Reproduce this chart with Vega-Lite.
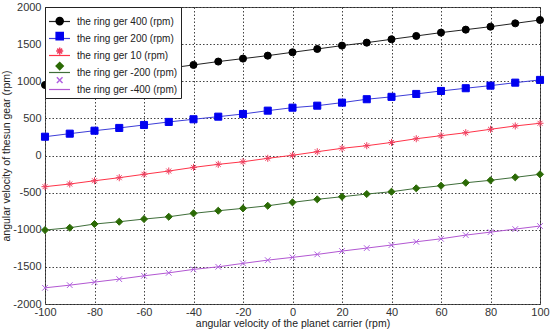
{
  "$schema": "https://vega.github.io/schema/vega-lite/v6.json",
  "width": 495,
  "height": 297,
  "autosize": {"type": "none"},
  "padding": {"left": 45, "top": 7, "right": 10, "bottom": 29},
  "config": {
    "font": "Liberation Sans",
    "view": {"stroke": "#555", "strokeWidth": 1},
    "axis": {"labelFontSize": 11, "labelColor": "#333", "titleColor": "#222", "titleFontWeight": "normal", "titleFontSize": 10.5, "grid": true, "gridColor": "#222", "gridDash": [1.5, 2], "gridOpacity": 0.85, "domain": false, "ticks": false, "labelFlush": false, "labelExpr": "toString(datum.value)"}
  },
  "data": {"values": [
    {"s": "the ring ger 400 (rpm)", "o": 1, "x": -100, "y": 950},
    {"s": "the ring ger 400 (rpm)", "o": 1, "x": -90, "y": 995},
    {"s": "the ring ger 400 (rpm)", "o": 1, "x": -80, "y": 1040},
    {"s": "the ring ger 400 (rpm)", "o": 1, "x": -70, "y": 1085},
    {"s": "the ring ger 400 (rpm)", "o": 1, "x": -60, "y": 1130},
    {"s": "the ring ger 400 (rpm)", "o": 1, "x": -50, "y": 1175},
    {"s": "the ring ger 400 (rpm)", "o": 1, "x": -40, "y": 1220},
    {"s": "the ring ger 400 (rpm)", "o": 1, "x": -30, "y": 1265},
    {"s": "the ring ger 400 (rpm)", "o": 1, "x": -20, "y": 1305},
    {"s": "the ring ger 400 (rpm)", "o": 1, "x": -10, "y": 1345},
    {"s": "the ring ger 400 (rpm)", "o": 1, "x": 0, "y": 1390},
    {"s": "the ring ger 400 (rpm)", "o": 1, "x": 10, "y": 1435},
    {"s": "the ring ger 400 (rpm)", "o": 1, "x": 20, "y": 1480},
    {"s": "the ring ger 400 (rpm)", "o": 1, "x": 30, "y": 1520},
    {"s": "the ring ger 400 (rpm)", "o": 1, "x": 40, "y": 1565},
    {"s": "the ring ger 400 (rpm)", "o": 1, "x": 50, "y": 1610},
    {"s": "the ring ger 400 (rpm)", "o": 1, "x": 60, "y": 1655},
    {"s": "the ring ger 400 (rpm)", "o": 1, "x": 70, "y": 1695},
    {"s": "the ring ger 400 (rpm)", "o": 1, "x": 80, "y": 1735},
    {"s": "the ring ger 400 (rpm)", "o": 1, "x": 90, "y": 1780},
    {"s": "the ring ger 400 (rpm)", "o": 1, "x": 100, "y": 1825},
    {"s": "the ring ger 200 (rpm)", "o": 2, "x": -100, "y": 253},
    {"s": "the ring ger 200 (rpm)", "o": 2, "x": -90, "y": 294},
    {"s": "the ring ger 200 (rpm)", "o": 2, "x": -80, "y": 334},
    {"s": "the ring ger 200 (rpm)", "o": 2, "x": -70, "y": 371},
    {"s": "the ring ger 200 (rpm)", "o": 2, "x": -60, "y": 411},
    {"s": "the ring ger 200 (rpm)", "o": 2, "x": -50, "y": 452},
    {"s": "the ring ger 200 (rpm)", "o": 2, "x": -40, "y": 488},
    {"s": "the ring ger 200 (rpm)", "o": 2, "x": -30, "y": 523},
    {"s": "the ring ger 200 (rpm)", "o": 2, "x": -20, "y": 559},
    {"s": "the ring ger 200 (rpm)", "o": 2, "x": -10, "y": 604},
    {"s": "the ring ger 200 (rpm)", "o": 2, "x": 0, "y": 644},
    {"s": "the ring ger 200 (rpm)", "o": 2, "x": 10, "y": 671},
    {"s": "the ring ger 200 (rpm)", "o": 2, "x": 20, "y": 712},
    {"s": "the ring ger 200 (rpm)", "o": 2, "x": 30, "y": 758},
    {"s": "the ring ger 200 (rpm)", "o": 2, "x": 40, "y": 790},
    {"s": "the ring ger 200 (rpm)", "o": 2, "x": 50, "y": 829},
    {"s": "the ring ger 200 (rpm)", "o": 2, "x": 60, "y": 869},
    {"s": "the ring ger 200 (rpm)", "o": 2, "x": 70, "y": 906},
    {"s": "the ring ger 200 (rpm)", "o": 2, "x": 80, "y": 941},
    {"s": "the ring ger 200 (rpm)", "o": 2, "x": 90, "y": 981},
    {"s": "the ring ger 200 (rpm)", "o": 2, "x": 100, "y": 1018},
    {"s": "the ring ger 10 (rpm)", "o": 3, "x": -100, "y": -420},
    {"s": "the ring ger 10 (rpm)", "o": 3, "x": -90, "y": -384},
    {"s": "the ring ger 10 (rpm)", "o": 3, "x": -80, "y": -340},
    {"s": "the ring ger 10 (rpm)", "o": 3, "x": -70, "y": -299},
    {"s": "the ring ger 10 (rpm)", "o": 3, "x": -60, "y": -253},
    {"s": "the ring ger 10 (rpm)", "o": 3, "x": -50, "y": -209},
    {"s": "the ring ger 10 (rpm)", "o": 3, "x": -40, "y": -160},
    {"s": "the ring ger 10 (rpm)", "o": 3, "x": -30, "y": -119},
    {"s": "the ring ger 10 (rpm)", "o": 3, "x": -20, "y": -84},
    {"s": "the ring ger 10 (rpm)", "o": 3, "x": -10, "y": -38},
    {"s": "the ring ger 10 (rpm)", "o": 3, "x": 0, "y": 3},
    {"s": "the ring ger 10 (rpm)", "o": 3, "x": 10, "y": 51},
    {"s": "the ring ger 10 (rpm)", "o": 3, "x": 20, "y": 97},
    {"s": "the ring ger 10 (rpm)", "o": 3, "x": 30, "y": 132},
    {"s": "the ring ger 10 (rpm)", "o": 3, "x": 40, "y": 176},
    {"s": "the ring ger 10 (rpm)", "o": 3, "x": 50, "y": 226},
    {"s": "the ring ger 10 (rpm)", "o": 3, "x": 60, "y": 267},
    {"s": "the ring ger 10 (rpm)", "o": 3, "x": 70, "y": 307},
    {"s": "the ring ger 10 (rpm)", "o": 3, "x": 80, "y": 353},
    {"s": "the ring ger 10 (rpm)", "o": 3, "x": 90, "y": 398},
    {"s": "the ring ger 10 (rpm)", "o": 3, "x": 100, "y": 434},
    {"s": "the ring ger -200 (rpm)", "o": 4, "x": -100, "y": -1004},
    {"s": "the ring ger -200 (rpm)", "o": 4, "x": -90, "y": -973},
    {"s": "the ring ger -200 (rpm)", "o": 4, "x": -80, "y": -923},
    {"s": "the ring ger -200 (rpm)", "o": 4, "x": -70, "y": -892},
    {"s": "the ring ger -200 (rpm)", "o": 4, "x": -60, "y": -856},
    {"s": "the ring ger -200 (rpm)", "o": 4, "x": -50, "y": -825},
    {"s": "the ring ger -200 (rpm)", "o": 4, "x": -40, "y": -779},
    {"s": "the ring ger -200 (rpm)", "o": 4, "x": -30, "y": -744},
    {"s": "the ring ger -200 (rpm)", "o": 4, "x": -20, "y": -712},
    {"s": "the ring ger -200 (rpm)", "o": 4, "x": -10, "y": -677},
    {"s": "the ring ger -200 (rpm)", "o": 4, "x": 0, "y": -631},
    {"s": "the ring ger -200 (rpm)", "o": 4, "x": 10, "y": -590},
    {"s": "the ring ger -200 (rpm)", "o": 4, "x": 20, "y": -555},
    {"s": "the ring ger -200 (rpm)", "o": 4, "x": 30, "y": -519},
    {"s": "the ring ger -200 (rpm)", "o": 4, "x": 40, "y": -488},
    {"s": "the ring ger -200 (rpm)", "o": 4, "x": 50, "y": -442},
    {"s": "the ring ger -200 (rpm)", "o": 4, "x": 60, "y": -407},
    {"s": "the ring ger -200 (rpm)", "o": 4, "x": 70, "y": -367},
    {"s": "the ring ger -200 (rpm)", "o": 4, "x": 80, "y": -334},
    {"s": "the ring ger -200 (rpm)", "o": 4, "x": 90, "y": -294},
    {"s": "the ring ger -200 (rpm)", "o": 4, "x": 100, "y": -253},
    {"s": "the ring ger -400 (rpm)", "o": 5, "x": -100, "y": -1782},
    {"s": "the ring ger -400 (rpm)", "o": 5, "x": -90, "y": -1746},
    {"s": "the ring ger -400 (rpm)", "o": 5, "x": -80, "y": -1705},
    {"s": "the ring ger -400 (rpm)", "o": 5, "x": -70, "y": -1665},
    {"s": "the ring ger -400 (rpm)", "o": 5, "x": -60, "y": -1620},
    {"s": "the ring ger -400 (rpm)", "o": 5, "x": -50, "y": -1580},
    {"s": "the ring ger -400 (rpm)", "o": 5, "x": -40, "y": -1534},
    {"s": "the ring ger -400 (rpm)", "o": 5, "x": -30, "y": -1499},
    {"s": "the ring ger -400 (rpm)", "o": 5, "x": -20, "y": -1453},
    {"s": "the ring ger -400 (rpm)", "o": 5, "x": -10, "y": -1409},
    {"s": "the ring ger -400 (rpm)", "o": 5, "x": 0, "y": -1372},
    {"s": "the ring ger -400 (rpm)", "o": 5, "x": 10, "y": -1332},
    {"s": "the ring ger -400 (rpm)", "o": 5, "x": 20, "y": -1287},
    {"s": "the ring ger -400 (rpm)", "o": 5, "x": 30, "y": -1247},
    {"s": "the ring ger -400 (rpm)", "o": 5, "x": 40, "y": -1206},
    {"s": "the ring ger -400 (rpm)", "o": 5, "x": 50, "y": -1162},
    {"s": "the ring ger -400 (rpm)", "o": 5, "x": 60, "y": -1122},
    {"s": "the ring ger -400 (rpm)", "o": 5, "x": 70, "y": -1072},
    {"s": "the ring ger -400 (rpm)", "o": 5, "x": 80, "y": -1032},
    {"s": "the ring ger -400 (rpm)", "o": 5, "x": 90, "y": -991},
    {"s": "the ring ger -400 (rpm)", "o": 5, "x": 100, "y": -950}
  ]},
  "encoding": {
    "x": {"field": "x", "type": "quantitative", "scale": {"domain": [-100, 100], "nice": false},
      "axis": {"values": [-100, -80, -60, -40, -20, 0, 20, 40, 60, 80, 100], "title": "angular velocity of the planet carrier (rpm)", "labelPadding": 2, "titlePadding": 1}},
    "y": {"field": "y", "type": "quantitative", "scale": {"domain": [-2000, 2000], "nice": false},
      "axis": {"values": [-2000, -1500, -1000, -500, 0, 500, 1000, 1500, 2000], "title": "angular velocity of thesun gear (rpm)", "labelPadding": 4, "titlePadding": 1}}
  },
  "layer": [
    {
      "mark": {"type": "line", "strokeWidth": 1},
      "encoding": {
        "color": {"field": "s", "type": "nominal",
          "scale": {"domain": ["the ring ger 400 (rpm)", "the ring ger 200 (rpm)", "the ring ger 10 (rpm)", "the ring ger -200 (rpm)", "the ring ger -400 (rpm)"],
            "range": ["#222222", "#3d3dd8", "#ff3348", "#3f6e3a", "#b257d2"]},
          "legend": {"orient": "top-left", "offset": 0, "title": null, "symbolType": "stroke", "symbolSize": 441, "symbolStrokeWidth": 1.2,
            "labelFontSize": 10, "labelColor": "#222", "labelOffset": 6, "rowPadding": -9, "padding": 3, "strokeColor": "#222", "fillColor": "white", "cornerRadius": 0}}
      }
    },
    {
      "mark": {"type": "point", "size": 50, "strokeWidth": 1, "opacity": 1},
      "encoding": {
        "shape": {"field": "s", "type": "nominal", "sort": {"field": "o"},
          "scale": {"range": ["circle", "square", "M-1,0L1,0M0,-1L0,1M-0.7,-0.7L0.7,0.7M-0.7,0.7L0.7,-0.7", "diamond", "M-0.8,-0.8L0.8,0.8M-0.8,0.8L0.8,-0.8"]},
          "legend": {"orient": "none", "legendX": 4.7, "legendY": 4.1, "title": null, "labelFontSize": 10, "labelExpr": "' '", "labelOffset": 5, "rowPadding": 1, "padding": 5, "symbolSize": 50}},
        "fill": {"field": "s", "type": "nominal", "sort": {"field": "o"},
          "scale": {"range": ["#000000", "#0000f0", "transparent", "#2b6a05", "transparent"]},
          "legend": {"orient": "none", "legendX": 4.7, "legendY": 4.1, "title": null, "labelFontSize": 10, "labelExpr": "' '", "labelOffset": 5, "rowPadding": 1, "padding": 5, "symbolSize": 50}},
        "stroke": {"field": "s", "type": "nominal", "sort": {"field": "o"},
          "scale": {"range": ["#000000", "#0000f0", "#f04060", "#2b6a05", "#b060e0"]},
          "legend": {"orient": "none", "legendX": 4.7, "legendY": 4.1, "title": null, "labelFontSize": 10, "labelExpr": "' '", "labelOffset": 5, "rowPadding": 1, "padding": 5, "symbolSize": 50}}
      }
    }
  ]
}
